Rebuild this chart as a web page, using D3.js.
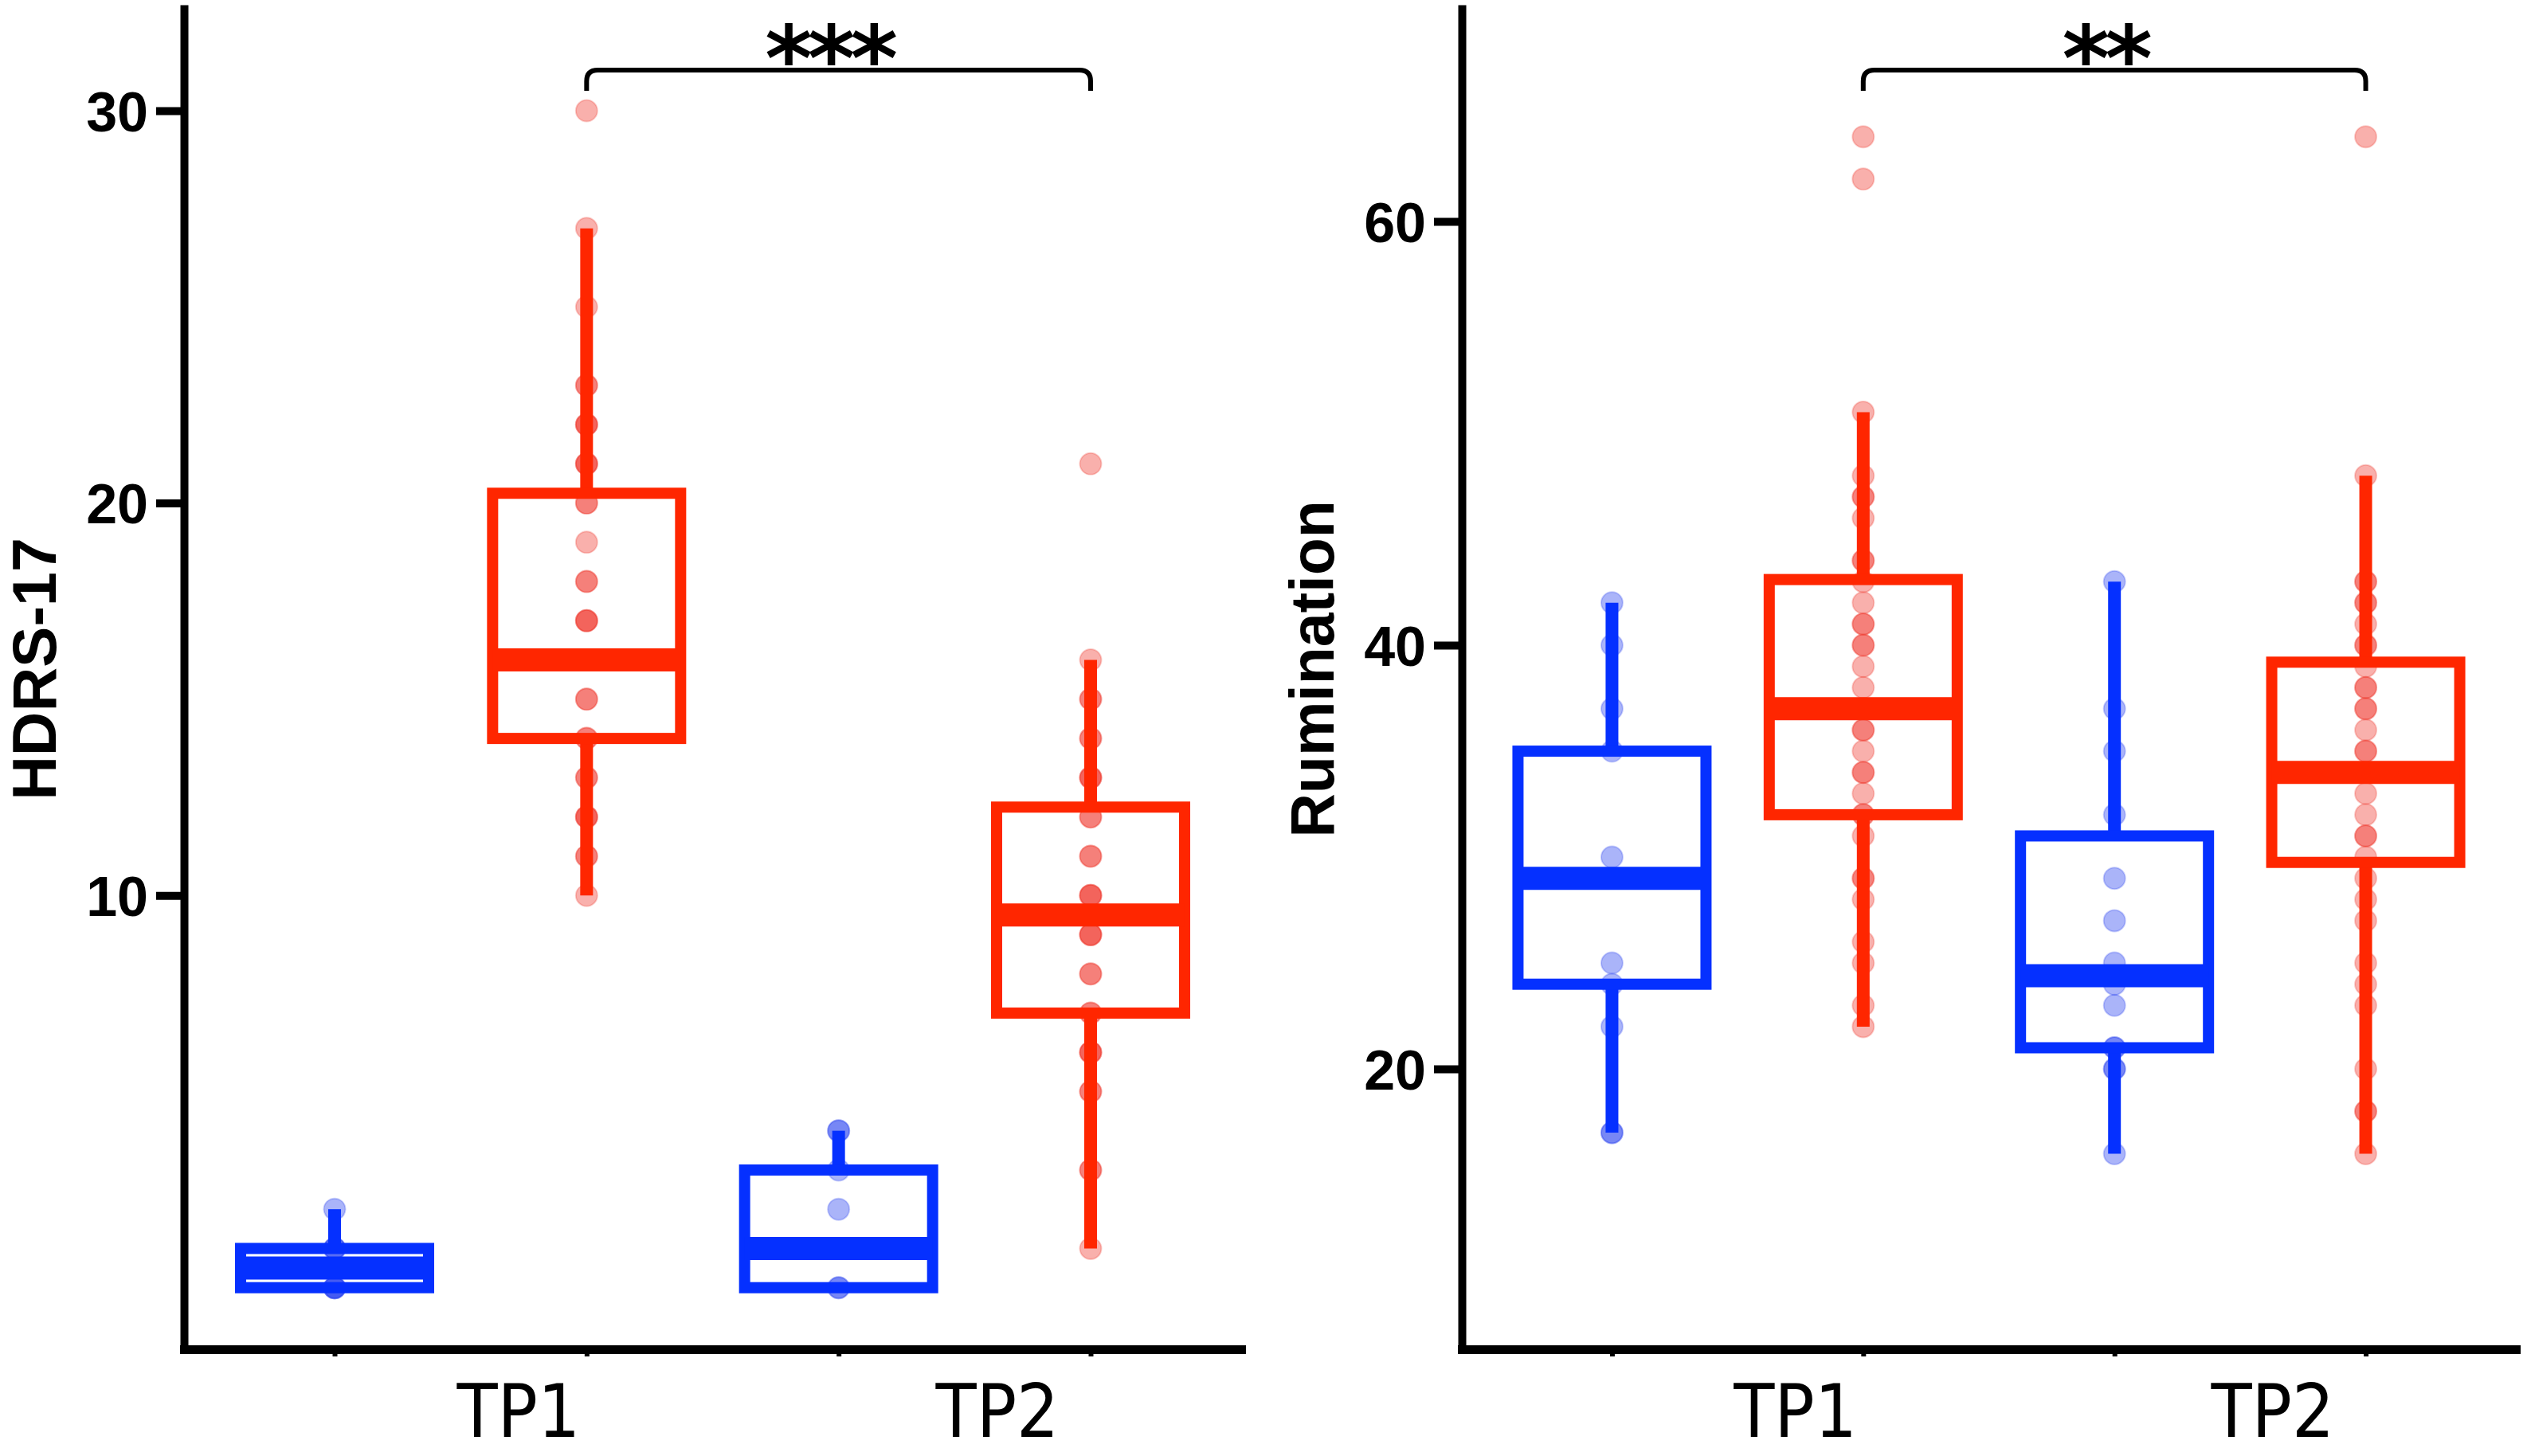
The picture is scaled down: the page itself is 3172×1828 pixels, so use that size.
<!DOCTYPE html>
<html>
<head>
<meta charset="utf-8">
<script src="https://cdn.jsdelivr.net/npm/d3@7"></script>
<style>
	body { margin: 0; background: #fff; }
	svg { display: block; }
	.axis path, .axis line { stroke: #000; }
	.tick_lbl { font-family: "Liberation Sans", Arial, sans-serif; font-weight: bold; font-size: 70px; fill: #000; }
	.y_title { font-family: "Liberation Sans", Arial, sans-serif; font-weight: bold; font-size: 77px; fill: #000; }
	.x_lbl { font-family: "DejaVu Sans Condensed", "DejaVu Sans", sans-serif; font-size: 93px; fill: #000; }
	.stars { font-family: "DejaVu Sans", sans-serif; font-weight: bold; font-size: 114px; fill: #000; }
</style>
</head>
<body>
<svg id="chart" width="3172" height="1828"></svg>
<script>
// groups in drawing order along the x axis (blue / red at each time point)
const groupKeys = ["TP1 blue", "TP1 red", "TP2 blue", "TP2 red"];
const timepoints = ["TP1", "TP2"];

// HDRS-17 panel
const hdrsTicks = [10, 20, 30];
// [min, q1, median, q3, max] per group
const hdrsStats = [
	[0, 0, 0.5, 1, 2],
	[10, 14, 16, 20.25, 27],
	[0, 0, 1, 3, 4],
	[1, 7, 9.5, 12.25, 16]
];
const hdrsPoints = [
	[0, 0, 0, 0, 1, 1, 1, 2],
	[30, 27, 25, 23, 23, 22, 22, 22, 21, 21, 21, 20, 20, 19, 18, 18, 17, 17, 17, 15, 15, 14, 14, 13, 13, 12, 12, 12, 11, 11, 10],
	[0, 0, 1, 1, 2, 3, 4, 4],
	[21, 16, 15, 15, 14, 14, 13, 13, 13, 12, 12, 11, 11, 10, 10, 10, 9, 9, 9, 8, 8, 7, 7, 6, 6, 6, 5, 5, 3, 3, 1]
];
const hdrsSignif = "***";

// Rumination panel
const rumTicks = [20, 40, 60];
const rumStats = [
	[17, 24, 29, 35, 42],
	[22, 32, 37, 43.1, 51],
	[16, 21, 24.4, 31, 43],
	[16, 29.75, 34, 39.2, 48]
];
const rumPoints = [
	[42, 40, 37, 35, 30, 25, 24, 22, 17, 17],
	[64, 62, 51, 48, 47, 47, 46, 44, 44, 43, 42, 41, 41, 40, 40, 39, 38, 37, 36, 36, 35, 34, 34, 33, 32, 32, 31, 29, 29, 28, 26, 25, 23, 22],
	[43, 37, 35, 32, 29, 27, 25, 24, 23, 21, 21, 20, 20, 16],
	[64, 48, 43, 43, 42, 42, 41, 40, 40, 39, 38, 38, 37, 37, 36, 35, 35, 33, 32, 31, 31, 30, 29, 28, 27, 25, 24, 23, 20, 18, 18, 16]
];
const rumSignif = "**";

const boxColor = { blue: "#0530ff", red: "#ff2600" };
const dotColor = { blue: "#2a44f0", red: "#f03a30" };

function colorOf(key) {
	return key.indexOf("red") >= 0 ? "red" : "blue";
}

//draw one panel: axes, boxes, dots, bracket
function drawPanel(svg, p) {
	const top = 11, bottom = 1694;

	let x = d3.scalePoint()
		.domain(groupKeys)
		.range([p.left, p.right])
		.padding(0.5975);

	let y = d3.scaleLinear()
		.domain(p.yDomain)
		.range([bottom, top]);

	let g = svg.append("g");

	//dots first, box and whiskers go on top
	p.points.forEach(function(vals, i) {
		const key = groupKeys[i];
		g.selectAll(null)
			.data(vals)
			.enter().append("circle")
			.attr("cx", x(key))
			.attr("cy", d => y(d))
			.attr("r", 13.5)
			.attr("fill", dotColor[colorOf(key)])
			.attr("fill-opacity", 0.4)
			.attr("stroke", dotColor[colorOf(key)])
			.attr("stroke-opacity", 0.25)
			.attr("stroke-width", 2);
	});

	const halfBox = 118;
	p.stats.forEach(function(s, i) {
		const key = groupKeys[i];
		const c = boxColor[colorOf(key)];
		const cx = x(key);

		//whiskers
		g.append("line")
			.attr("x1", cx).attr("x2", cx)
			.attr("y1", y(s[3])).attr("y2", y(s[4]))
			.attr("stroke", c).attr("stroke-width", 16);
		g.append("line")
			.attr("x1", cx).attr("x2", cx)
			.attr("y1", y(s[1])).attr("y2", y(s[0]))
			.attr("stroke", c).attr("stroke-width", 16);

		//box
		g.append("rect")
			.attr("x", cx - halfBox)
			.attr("y", y(s[3]))
			.attr("width", 2 * halfBox)
			.attr("height", y(s[1]) - y(s[3]))
			.attr("fill", "none")
			.attr("stroke", c)
			.attr("stroke-width", 14);

		//median
		g.append("line")
			.attr("x1", cx - halfBox).attr("x2", cx + halfBox)
			.attr("y1", y(s[2])).attr("y2", y(s[2]))
			.attr("stroke", c).attr("stroke-width", 29);
	});

	//y axis
	let yAxis = svg.append("g")
		.attr("class", "axis")
		.attr("transform", "translate(" + p.left + ",0)")
		.call(d3.axisLeft(y).tickValues(p.ticks).tickSize(35).tickSizeOuter(0).tickPadding(10));
	yAxis.select(".domain").attr("stroke-width", 10).attr("stroke-linecap", "square");
	yAxis.selectAll(".tick line").attr("stroke-width", 10);
	yAxis.selectAll(".tick text")
		.attr("class", "tick_lbl")
		.attr("dy", "0.36em");
	yAxis.attr("font-size", null).attr("font-family", null);

	//x axis, small tick marks only
	let xAxis = svg.append("g")
		.attr("class", "axis")
		.attr("transform", "translate(0," + bottom + ")")
		.call(d3.axisBottom(x).tickSize(9).tickSizeOuter(0).tickFormat(""));
	xAxis.select(".domain").attr("stroke-width", 11).attr("stroke-linecap", "square");
	xAxis.selectAll(".tick line").attr("stroke-width", 6);

	//time point labels
	const step = x.step();
	const x0 = x(groupKeys[0]);
	const labelPos = [0.73, 2.63];
	svg.selectAll(null)
		.data(timepoints)
		.enter().append("text")
		.attr("class", "x_lbl")
		.attr("text-anchor", "middle")
		.attr("x", (d, i) => x0 + labelPos[i] * step)
		.attr("y", 1804)
		.text(d => d);

	//y title
	svg.append("text")
		.attr("class", "y_title")
		.attr("text-anchor", "middle")
		.attr("transform", "translate(" + (p.left - 161) + ",840) rotate(-90)")
		.text(p.title);

	//significance bracket between the red groups
	const bx1 = x(groupKeys[1]), bx2 = x(groupKeys[3]);
	const by = 88, bEnd = 114, r = 14;
	svg.append("path")
		.attr("d", "M" + bx1 + "," + bEnd + "V" + (by + r) + "Q" + bx1 + "," + by + " " + (bx1 + r) + "," + by +
			"H" + (bx2 - r) + "Q" + bx2 + "," + by + " " + bx2 + "," + (by + r) + "V" + bEnd)
		.attr("fill", "none")
		.attr("stroke", "#000")
		.attr("stroke-width", 6);

	svg.append("text")
		.attr("class", "stars")
		.attr("text-anchor", "middle")
		.attr("x", (bx1 + bx2) / 2 - 12)
		.attr("y", 114)
		.attr("letter-spacing", -6)
		.text(p.signif);
}

const svg = d3.select("#chart");

svg.append("rect")
	.attr("width", 3172)
	.attr("height", 1828)
	.attr("fill", "#fff");

drawPanel(svg, {
	left: 231, right: 1558,
	yDomain: [-1.57, 32.6],
	ticks: hdrsTicks,
	stats: hdrsStats,
	points: hdrsPoints,
	title: "HDRS-17",
	signif: hdrsSignif
});

drawPanel(svg, {
	left: 1835, right: 3158,
	yDomain: [6.77, 70.04],
	ticks: rumTicks,
	stats: rumStats,
	points: rumPoints,
	title: "Rumination",
	signif: rumSignif
});
</script>
</body>
</html>
